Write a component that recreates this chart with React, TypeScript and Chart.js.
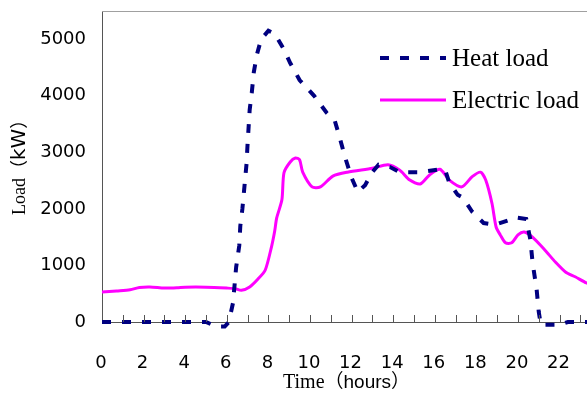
import React, { useEffect, useRef } from 'react';
import { Chart, registerables } from 'chart.js';

Chart.register(...registerables);

// ---- Data (hours, kW) ----
const heatHours = [0, 1, 2, 3, 4, 5, 5.5, 5.9, 6.1, 6.3, 6.45, 6.6, 6.65, 6.75, 6.85, 6.95, 7.0, 7.05, 7.1, 7.2, 7.3, 7.45, 7.65, 8.0, 8.3, 8.7, 9.05, 9.5, 10.2, 10.8, 11.2, 11.4, 11.7, 12.0, 12.3, 12.65, 13.0, 13.3, 13.85, 14.3, 15.3, 16.25, 16.5, 16.7, 17.1, 17.35, 17.8, 18.35, 18.9, 19.55, 19.85, 20.4, 20.6, 20.7, 20.9, 21.0, 21.1, 22.0, 22.4, 24];
const heatLoad = [0, 0, 0, 0, 0, 0, -80, -80, 0, 340, 970, 1350, 1700, 2000, 2400, 2800, 3150, 3450, 3750, 4050, 4420, 4730, 5000, 5150, 5100, 4850, 4580, 4280, 4000, 3700, 3550, 3300, 2900, 2550, 2300, 2420, 2650, 2780, 2740, 2650, 2650, 2700, 2690, 2460, 2250, 2200, 1950, 1750, 1720, 1800, 1850, 1820, 1450, 1060, 570, 180, -50, -50, 0, 0];

const elecHours = [0, 0.7, 1.35, 1.8, 2.3, 3, 3.6, 4, 5, 6, 6.4, 6.7, 7.1, 7.5, 7.85, 8.15, 8.3, 8.4, 8.65, 8.75, 9.05, 9.3, 9.5, 9.65, 10.1, 10.5, 11.1, 11.8, 13.0, 13.75, 14.3, 14.8, 15.3, 15.75, 16.25, 16.7, 17.3, 17.8, 18.2, 18.45, 18.75, 18.95, 19.15, 19.4, 19.7, 20.0, 20.3, 20.7, 21.3, 21.8, 22.3, 22.75, 23.3, 24];
const elecLoad = [530, 550, 570, 610, 620, 600, 605, 615, 615, 600, 590, 560, 620, 760, 920, 1330, 1600, 1840, 2160, 2640, 2830, 2900, 2870, 2650, 2390, 2390, 2580, 2650, 2720, 2780, 2690, 2510, 2440, 2600, 2700, 2510, 2390, 2570, 2650, 2510, 2100, 1680, 1540, 1400, 1400, 1540, 1590, 1500, 1270, 1060, 880, 800, 690, 600];

const seriesLabels = ['Heat load', 'Electric load'];
const xTickValues = [0, 2, 4, 6, 8, 10, 12, 14, 16, 18, 20, 22];
const xTickLabels = ['0', '2', '4', '6', '8', '10', '12', '14', '16', '18', '20', '22'];
const yTickValues = [0, 1000, 2000, 3000, 4000, 5000];
const xTitleParts = ['Time', '（', 'hours', '）'];
const yTitleParts = ['Load', '（', 'kW', '）'];

const X_MAX = 23.32;
const Y_MAX = 5500;

const NAVY = '#000080';
const MAGENTA = '#FF00FF';
const AXIS = '#555555';

const decorPlugin = {
  id: 'decor',
  afterDraw(chart: any) {
    const { ctx, chartArea } = chart;
    const xs = chart.scales.x;
    ctx.save();
    // top border
    ctx.strokeStyle = '#a0a0a0';
    ctx.lineWidth = 1;
    ctx.beginPath();
    ctx.moveTo(chartArea.left, chartArea.top + 0.5);
    ctx.lineTo(chartArea.right, chartArea.top + 0.5);
    ctx.stroke();
    // inside tick marks every hour
    ctx.strokeStyle = AXIS;
    ctx.beginPath();
    for (let h = 1; h <= Math.floor(X_MAX); h++) {
      const px = Math.round(xs.getPixelForValue(h)) + 0.5;
      ctx.moveTo(px, chartArea.bottom);
      ctx.lineTo(px, chartArea.bottom - 7);
    }
    ctx.stroke();

    // x tick labels
    ctx.fillStyle = '#000';
    ctx.font = "18px 'DejaVu Sans'";
    ctx.textAlign = 'center';
    ctx.textBaseline = 'middle';
    xTickValues.forEach((v, i) => {
      ctx.fillText(xTickLabels[i], xs.getPixelForValue(v) - 1, chartArea.bottom + 41);
    });

    // legend
    const ds = chart.data.datasets;
    const lx0 = chartArea.left + 278;
    const lx1 = chartArea.left + 344;
    const tx = chartArea.left + 350;
    const rows = [chartArea.top + 47, chartArea.top + 89];
    ds.forEach((d: any, i: number) => {
      const y = rows[i];
      ctx.save();
      ctx.strokeStyle = d.borderColor;
      ctx.lineWidth = d.borderWidth;
      ctx.setLineDash(d.borderDash || []);
      ctx.beginPath();
      ctx.moveTo(lx0, y);
      ctx.lineTo(lx1, y);
      ctx.stroke();
      ctx.restore();
      ctx.fillStyle = '#000';
      ctx.font = "25px 'Liberation Serif', serif";
      ctx.textBaseline = 'alphabetic';
      ctx.textAlign = 'left';
      ctx.fillText(d.label, tx, y + 8);
    });

    // x title with mixed fonts
    const xFonts = ["20px 'Liberation Serif'", "19px 'Noto Sans CJK SC'", "19px 'Liberation Sans'", "19px 'Noto Sans CJK SC'"];
    let cx = 283;
    const xb = 388;
    ctx.textAlign = 'left';
    ctx.textBaseline = 'alphabetic';
    xTitleParts.forEach((t, i) => {
      ctx.font = xFonts[i];
      ctx.fillText(t, cx, xb);
      cx += ctx.measureText(t).width;
    });

    // y title rotated
    const yFonts = ["18px 'Liberation Serif'", "18px 'Noto Sans CJK SC'", "20px 'DejaVu Sans'", "18px 'Noto Sans CJK SC'"];
    ctx.save();
    ctx.translate(25, 215);
    ctx.rotate(-Math.PI / 2);
    let cy = 0;
    yTitleParts.forEach((t, i) => {
      ctx.font = yFonts[i];
      ctx.fillText(t, cy, 0);
      cy += ctx.measureText(t).width;
    });
    ctx.restore();
    ctx.restore();
  },
};

export default function App() {
  const ref = useRef<HTMLCanvasElement>(null);
  useEffect(() => {
    if (!ref.current) return;
    const chart = new Chart(ref.current, {
      type: 'line',
      data: {
        datasets: [
          {
            label: seriesLabels[0],
            data: heatHours.map((h, i) => ({ x: h, y: heatLoad[i] })),
            borderColor: NAVY,
            backgroundColor: NAVY,
            borderWidth: 4,
            borderDash: [9, 11],
            pointRadius: 0,
            tension: 0,
            clip: 10,
          },
          {
            label: seriesLabels[1],
            data: elecHours.map((h, i) => ({ x: h, y: elecLoad[i] })),
            borderColor: MAGENTA,
            backgroundColor: MAGENTA,
            borderWidth: 3,
            pointRadius: 0,
            tension: 0.25,
            clip: 10,
          },
        ],
      },
      options: {
        animation: false,
        responsive: false,
        maintainAspectRatio: false,
        layout: { padding: { left: 0, right: 0, top: 11, bottom: 0 } },
        plugins: {
          legend: { display: false },
          tooltip: { enabled: false },
          title: { display: false },
        },
        scales: {
          x: {
            type: 'linear',
            min: 0,
            max: X_MAX,
            afterBuildTicks: (s: any) => {
              s.ticks = xTickValues.map((v) => ({ value: v }));
            },
            afterFit: (s: any) => {
              s.height = 72;
              s.paddingLeft = 0;
              s.paddingRight = 0;
            },
            grid: { display: false, drawTicks: false },
            border: { display: true, color: AXIS, width: 1 },
            ticks: { display: false },
          },
          y: {
            type: 'linear',
            min: 0,
            max: Y_MAX,
            afterBuildTicks: (s: any) => {
              s.ticks = yTickValues.map((v) => ({ value: v }));
            },
            afterFit: (s: any) => {
              s.width = 102;
              s.paddingTop = 0;
              s.paddingBottom = 0;
            },
            grid: { display: false, drawTicks: false },
            border: { display: true, color: AXIS, width: 1 },
            ticks: {
              padding: 16,
              color: '#000',
              font: { family: "'DejaVu Sans'", size: 18 },
              callback: (v: any) => String(v),
            },
          },
        },
      },
      plugins: [decorPlugin],
    } as any);
    return () => chart.destroy();
  }, []);
  return (
    <div style={{ position: 'fixed', left: 0, top: 0, width: 587, height: 394, background: '#fff' }}>
      <canvas ref={ref} width={587} height={394} style={{ display: 'block', width: 587, height: 394 }} />
    </div>
  );
}
